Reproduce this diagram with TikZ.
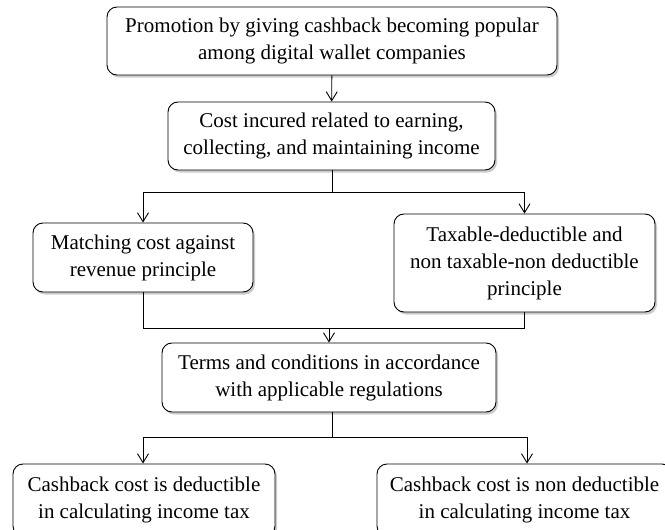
\documentclass[tikz,border=0pt]{standalone}
\usepackage{fontspec}
\setmainfont{Liberation Serif}
\usetikzlibrary{shadows, arrows.meta}
\tikzstyle{block} = [rectangle, rounded corners=10pt,
draw=black,
line width=0.9pt,
fill=white,
align=center,
inner sep=0pt,
drop shadow={shadow xshift=2pt, shadow yshift=-2.5pt, fill=black!40},
font=\fontsize{21}{27}\selectfont]
\tikzstyle{line} = [line width=0.9pt]
\tikzstyle{arrow} = [line width=0.9pt, -{Straight Barb[length=9pt, width=11pt]}]

\begin{document}
\begin{tikzpicture}[x=1pt, y=-1pt]
        \clip (0,0) rectangle (665,530);
        \node (promo) [block, minimum width=450pt, minimum height=68pt] at (332,41) {Promotion by giving cashback becoming popular\\among digital wallet companies};
        \node (cost) [block, minimum width=327pt, minimum height=68pt] at (331.5,136) {Cost incured related to earning,\\collecting, and maintaining income};
        \node (matching) [block, minimum width=220pt, minimum height=69pt] at (143,257.5) {Matching cost against\\revenue principle};
        \node (taxable) [block, minimum width=261pt, minimum height=98pt] at (524.5,263) {Taxable-deductible and\\non taxable-non deductible\\principle};
        \node (terms) [block, minimum width=334pt, minimum height=69pt] at (329,377.5) {Terms and conditions in accordance\\with applicable regulations};
        \node (deductible) [block, minimum width=262pt, minimum height=72pt] at (144,500) {Cashback cost is deductible\\in calculating income tax};
        \node (nondeductible) [block, minimum width=295pt, minimum height=72pt] at (524.5,500) {Cashback cost is non deductible\\in calculating income tax};

        \coordinate (fork1) at (332,192);
        \coordinate (join) at (329,328);
        \coordinate (fork2) at (332,437);

        \draw [arrow] (promo) -- (cost);
        \draw [line] (cost.south -| fork1) -- (fork1);
        \draw [arrow] (fork1) -| (matching);
        \draw [arrow] (fork1) -| (taxable);
        \draw [line] (matching) |- (join);
        \draw [line] (taxable) |- (join);
        \draw [arrow] (join) -- (terms.north -| join);
        \draw [line] (terms.south -| fork2) -- (fork2);
        \draw [arrow] (fork2) -| ([xshift=-1pt]deductible.north);
        \draw [arrow] (fork2) -| ([xshift=2.5pt]nondeductible.north);
    \end{tikzpicture}
\end{document}
